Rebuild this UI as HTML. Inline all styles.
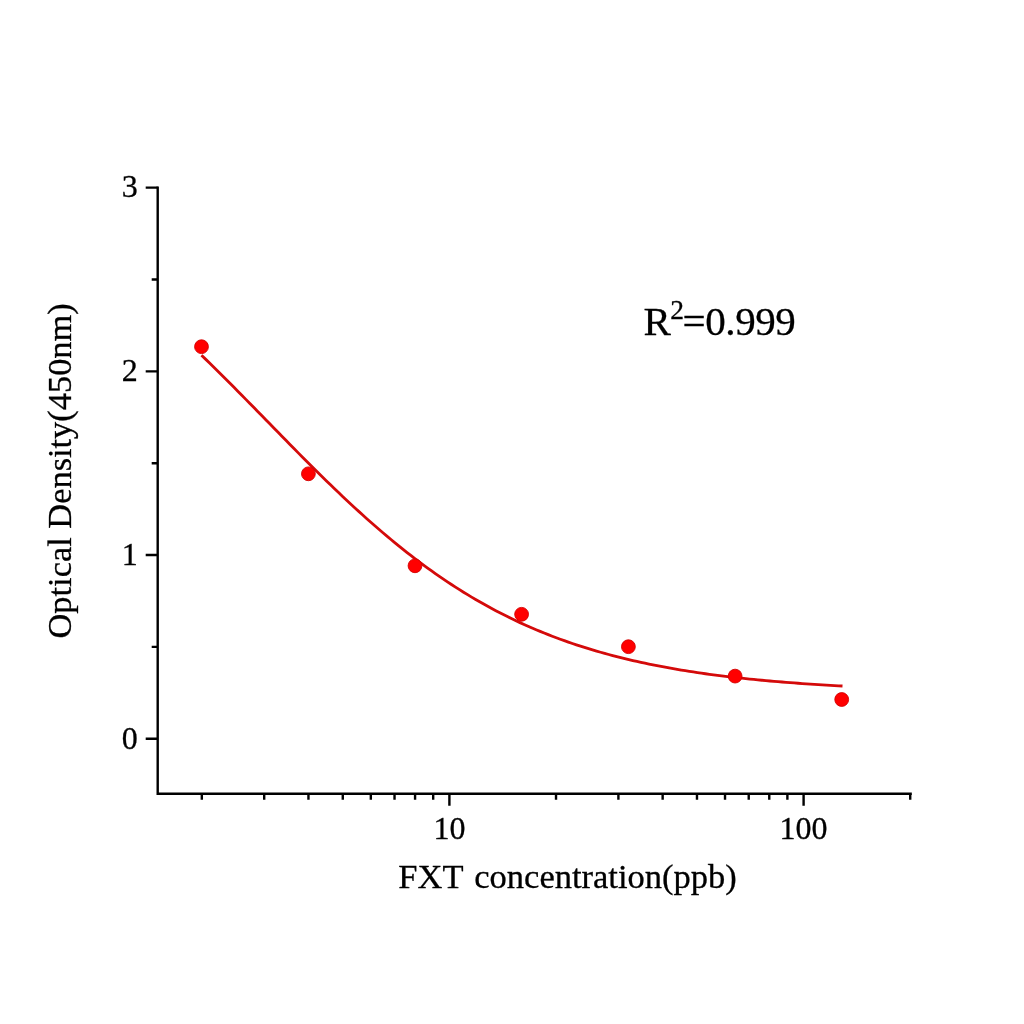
<!DOCTYPE html>
<html><head><meta charset="utf-8"><style>
html,body{margin:0;padding:0;background:#fff;}
body{width:1024px;height:1024px;overflow:hidden;}
svg{display:block;will-change:transform;}
</style></head><body>
<svg width="1024" height="1024" viewBox="0 0 1024 1024">
<rect width="1024" height="1024" fill="#fff"/>
<path d="M157.7 186.4 V794.9000000000001 M156.5 793.7 H911.8" stroke="#000" stroke-width="2.4" fill="none" stroke-linecap="butt"/>
<path d="M145.7 738.75 H157.7 M145.7 555.05 H157.7 M145.7 371.35 H157.7 M145.7 187.65 H157.7 M151.7 646.90 H157.7 M151.7 463.20 H157.7 M151.7 279.50 H157.7 M449.40 793.7 V805.7 M803.60 793.7 V805.7 M201.82 793.7 V799.7 M264.20 793.7 V799.7 M308.45 793.7 V799.7 M342.78 793.7 V799.7 M370.82 793.7 V799.7 M394.53 793.7 V799.7 M415.07 793.7 V799.7 M433.19 793.7 V799.7 M556.02 793.7 V799.7 M618.40 793.7 V799.7 M662.65 793.7 V799.7 M696.98 793.7 V799.7 M725.02 793.7 V799.7 M748.73 793.7 V799.7 M769.27 793.7 V799.7 M787.39 793.7 V799.7 M910.22 793.7 V799.7 M910.22 793.7 V799.7" stroke="#000" stroke-width="2.4" fill="none"/>
<g font-family="Liberation Serif, serif" font-size="32" fill="#000" stroke="#000" stroke-width="0.3"><text x="137.7" y="748.75" text-anchor="end">0</text><text x="137.7" y="564.55" text-anchor="end">1</text><text x="137.7" y="380.85" text-anchor="end">2</text><text x="137.7" y="197.15" text-anchor="end">3</text><text x="449.40" y="839.0" text-anchor="middle">10</text><text x="803.60" y="839.0" text-anchor="middle">100</text></g>
<text x="398.3" y="887.6" font-family="Liberation Serif, serif" font-size="34.5" word-spacing="2.8" fill="#000" stroke="#000" stroke-width="0.3">FXT concentration(ppb)</text>
<text transform="translate(70.6 637.1) rotate(-90)" x="-1.4" y="0" font-family="Liberation Serif, serif" font-size="34.4" fill="#000" stroke="#000" stroke-width="0.3">Optical Density(450nm)</text>
<text x="643.6" y="335.2" font-family="Liberation Serif, serif" font-size="41" fill="#000" stroke="#000" stroke-width="0.3">R<tspan font-size="27.5" dy="-16.4" dx="-0.8">2</tspan><tspan dy="16.4" dx="-1.4" letter-spacing="-0.4">=0.999</tspan></text>
<path d="M201.50 355.22 L205.53 359.12 L209.56 363.05 L213.59 367.00 L217.63 370.98 L221.66 374.98 L225.69 379.00 L229.72 383.04 L233.75 387.10 L237.78 391.17 L241.81 395.26 L245.85 399.36 L249.88 403.46 L253.91 407.58 L257.94 411.70 L261.97 415.83 L266.00 419.96 L270.03 424.09 L274.07 428.22 L278.10 432.34 L282.13 436.46 L286.16 440.58 L290.19 444.68 L294.22 448.78 L298.25 452.86 L302.29 456.92 L306.32 460.97 L310.35 465.01 L314.38 469.02 L318.41 473.01 L322.44 476.98 L326.47 480.92 L330.51 484.84 L334.54 488.73 L338.57 492.59 L342.60 496.42 L346.63 500.22 L350.66 503.98 L354.69 507.71 L358.73 511.40 L362.76 515.06 L366.79 518.68 L370.82 522.26 L374.85 525.80 L378.88 529.29 L382.92 532.75 L386.95 536.16 L390.98 539.53 L395.01 542.86 L399.04 546.14 L403.07 549.37 L407.10 552.56 L411.14 555.70 L415.17 558.80 L419.20 561.85 L423.23 564.85 L427.26 567.80 L431.29 570.70 L435.32 573.56 L439.36 576.37 L443.39 579.13 L447.42 581.84 L451.45 584.50 L455.48 587.12 L459.51 589.69 L463.54 592.20 L467.58 594.68 L471.61 597.10 L475.64 599.48 L479.67 601.81 L483.70 604.09 L487.73 606.33 L491.76 608.52 L495.80 610.66 L499.83 612.77 L503.86 614.82 L507.89 616.83 L511.92 618.80 L515.95 620.73 L519.98 622.61 L524.02 624.45 L528.05 626.25 L532.08 628.01 L536.11 629.73 L540.14 631.41 L544.17 633.05 L548.20 634.65 L552.24 636.22 L556.27 637.75 L560.30 639.24 L564.33 640.69 L568.36 642.11 L572.39 643.50 L576.42 644.85 L580.46 646.16 L584.49 647.45 L588.52 648.70 L592.55 649.92 L596.58 651.11 L600.61 652.27 L604.64 653.40 L608.68 654.50 L612.71 655.58 L616.74 656.62 L620.77 657.64 L624.80 658.63 L628.83 659.60 L632.86 660.54 L636.90 661.46 L640.93 662.35 L644.96 663.21 L648.99 664.06 L653.02 664.88 L657.05 665.68 L661.08 666.46 L665.12 667.22 L669.15 667.95 L673.18 668.67 L677.21 669.37 L681.24 670.04 L685.27 670.70 L689.31 671.34 L693.34 671.97 L697.37 672.57 L701.40 673.16 L705.43 673.74 L709.46 674.29 L713.49 674.83 L717.53 675.36 L721.56 675.87 L725.59 676.37 L729.62 676.85 L733.65 677.32 L737.68 677.78 L741.71 678.22 L745.75 678.65 L749.78 679.07 L753.81 679.48 L757.84 679.88 L761.87 680.26 L765.90 680.63 L769.93 680.99 L773.97 681.35 L778.00 681.69 L782.03 682.02 L786.06 682.34 L790.09 682.66 L794.12 682.96 L798.15 683.26 L802.19 683.54 L806.22 683.82 L810.25 684.09 L814.28 684.36 L818.31 684.61 L822.34 684.86 L826.37 685.10 L830.41 685.33 L834.44 685.56 L838.47 685.78 L842.50 685.99" stroke="#d40a0a" stroke-width="2.8" fill="none"/>
<circle cx="201.5" cy="346.7" r="6.9" fill="#ff0000" stroke="#d40000" stroke-width="0.9"/>
<circle cx="308.4" cy="473.8" r="6.9" fill="#ff0000" stroke="#d40000" stroke-width="0.9"/>
<circle cx="415" cy="565.8" r="6.9" fill="#ff0000" stroke="#d40000" stroke-width="0.9"/>
<circle cx="521.6" cy="614.3" r="6.9" fill="#ff0000" stroke="#d40000" stroke-width="0.9"/>
<circle cx="628.4" cy="646.7" r="6.9" fill="#ff0000" stroke="#d40000" stroke-width="0.9"/>
<circle cx="735.1" cy="676.1" r="6.9" fill="#ff0000" stroke="#d40000" stroke-width="0.9"/>
<circle cx="841.7" cy="699.5" r="6.9" fill="#ff0000" stroke="#d40000" stroke-width="0.9"/>
</svg>
</body></html>
